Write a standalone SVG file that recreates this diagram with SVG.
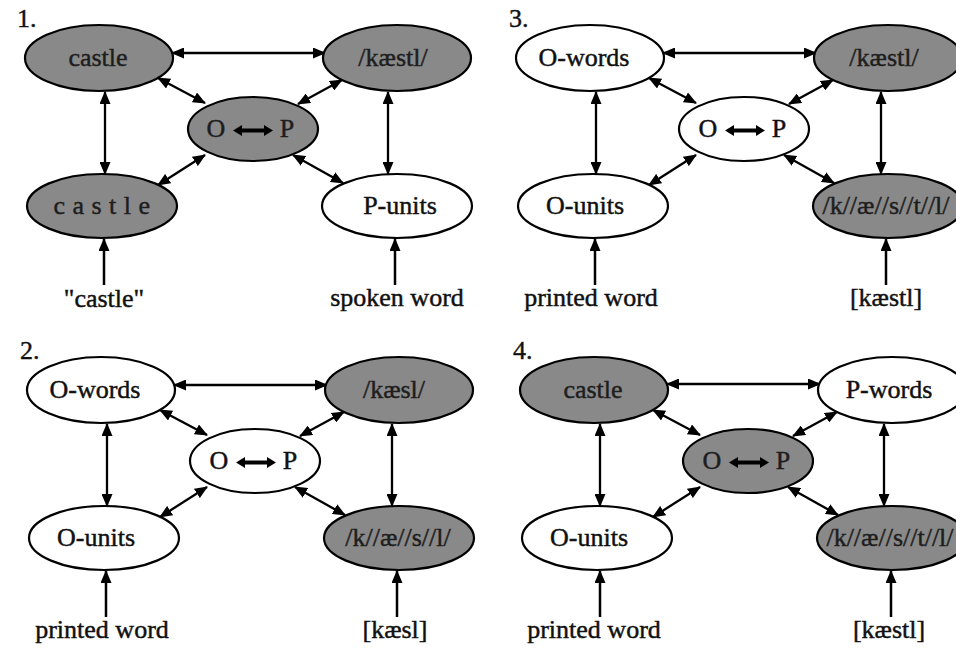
<svg xmlns="http://www.w3.org/2000/svg" width="956" height="650" viewBox="0 0 956 650">
<defs>
<marker id="ah" viewBox="0 0 13 11" refX="12" refY="5.5" markerWidth="13" markerHeight="11" markerUnits="userSpaceOnUse" orient="auto-start-reverse">
<path d="M0,0 L13,5.5 L0,11 Z" fill="#000"/>
</marker>
</defs>
<style>
.n{stroke:#000;stroke-width:2.2}
.g{fill:#898989}
.w{fill:#fff}
.t{font-family:"Liberation Serif","Times New Roman",serif;font-size:26px;fill:#111;stroke:#111;stroke-width:0.45;text-anchor:middle}
.tg{fill:#1e1e1e;stroke:#1e1e1e}
.num{font-family:"Liberation Serif","Times New Roman",serif;font-size:26px;fill:#111;stroke:#111;stroke-width:0.4}
.c{stroke:#000;stroke-width:2.3;fill:none;marker-start:url(#ah);marker-end:url(#ah)}
.u{stroke:#000;stroke-width:2.5;fill:none;marker-end:url(#ah)}
.big{fill:#000}
</style>
<rect width="956" height="650" fill="#fff"/>

<!-- Panel 1 -->
<g id="panel1" transform="translate(0,0)">
<text class="num" x="17" y="27">1.</text>
<g id="p1-connectors">
<path class="c" d="M172,53 L325,53"/>
<path class="c" d="M105,92 L105,174"/>
<path class="c" d="M388,92 L388,174"/>
<path class="c" d="M158,78 L205,103"/>
<path class="c" d="M342,80 L298,104"/>
<path class="c" d="M158,185 L205,155"/>
<path class="c" d="M343,183 L293,155"/>
<path class="u" d="M104,285 L104,239"/>
<path class="u" d="M395,285 L395,239"/>
</g>
<g id="p1-castle"><ellipse class="n g" cx="99" cy="58" rx="74" ry="33"/><text class="t tg" x="98" y="66">castle</text></g>
<g id="p1-kaestl"><ellipse class="n g" cx="397" cy="58" rx="74" ry="33"/><text class="t tg" x="393" y="66">/kæstl/</text></g>
<g id="p1-op"><ellipse class="n g" cx="253" cy="129" rx="65" ry="32"/><text class="t tg" x="216" y="137">O</text><path class="big" d="M233,130.5 L242,125 L242,128.5 L264,128.5 L264,125 L273,130.5 L264,136 L264,132.5 L242,132.5 L242,136 Z"/><text class="t tg" x="287" y="137">P</text></g>
<g id="p1-letters"><ellipse class="n g" cx="102" cy="206" rx="75" ry="32"/><text class="t tg" x="102" y="214" letter-spacing="0.5">c a s t l e</text></g>
<g id="p1-punits"><ellipse class="n w" cx="397" cy="206" rx="75" ry="32"/><text class="t" x="400" y="214">P-units</text></g>
<text class="t" x="104" y="307">"castle"</text>
<text class="t" x="397" y="306">spoken word</text>
</g>

<!-- Panel 3 -->
<g id="panel3" transform="translate(491,0)">
<text class="num" x="18" y="27">3.</text>
<g id="p3-connectors">
<path class="c" d="M172,53 L325,53"/>
<path class="c" d="M105,92 L105,174"/>
<path class="c" d="M390,92 L390,174"/>
<path class="c" d="M158,78 L205,103"/>
<path class="c" d="M342,80 L298,104"/>
<path class="c" d="M158,185 L205,155"/>
<path class="c" d="M343,183 L293,155"/>
<path class="u" d="M104,285 L104,239"/>
<path class="u" d="M395,285 L395,239"/>
</g>
<g id="p3-owords"><ellipse class="n w" cx="99" cy="58" rx="74" ry="33"/><text class="t" x="93" y="66">O-words</text></g>
<g id="p3-kaestl"><ellipse class="n g" cx="397" cy="58" rx="74" ry="33"/><text class="t tg" x="393" y="66">/kæstl/</text></g>
<g id="p3-op"><ellipse class="n w" cx="253" cy="129" rx="65" ry="32"/><text class="t" x="217" y="137">O</text><path class="big" d="M234,130.5 L243,125 L243,128.5 L265,128.5 L265,125 L274,130.5 L265,136 L265,132.5 L243,132.5 L243,136 Z"/><text class="t" x="288" y="137">P</text></g>
<g id="p3-ounits"><ellipse class="n w" cx="102" cy="206" rx="75" ry="32"/><text class="t" x="94" y="214">O-units</text></g>
<g id="p3-phonemes"><ellipse class="n g" cx="397" cy="206" rx="75" ry="32"/><text class="t tg" x="395" y="214">/k//æ//s//t//l/</text></g>
<text class="t" x="100" y="306">printed word</text>
<text class="t" x="395" y="306">[kæstl]</text>
</g>

<!-- Panel 2 -->
<g id="panel2" transform="translate(2,332)">
<text class="num" x="18" y="27">2.</text>
<g id="p2-connectors">
<path class="c" d="M172,53 L325,53"/>
<path class="c" d="M105,92 L105,174"/>
<path class="c" d="M390,92 L390,174"/>
<path class="c" d="M158,78 L205,103"/>
<path class="c" d="M342,80 L298,104"/>
<path class="c" d="M158,185 L205,155"/>
<path class="c" d="M343,183 L293,155"/>
<path class="u" d="M104,285 L104,239"/>
<path class="u" d="M395,285 L395,239"/>
</g>
<g id="p2-owords"><ellipse class="n w" cx="99" cy="58" rx="74" ry="33"/><text class="t" x="93" y="66">O-words</text></g>
<g id="p2-kaesl"><ellipse class="n g" cx="397" cy="58" rx="74" ry="33"/><text class="t tg" x="392" y="66">/kæsl/</text></g>
<g id="p2-op"><ellipse class="n w" cx="253" cy="129" rx="65" ry="32"/><text class="t" x="217" y="137">O</text><path class="big" d="M234,130.5 L243,125 L243,128.5 L265,128.5 L265,125 L274,130.5 L265,136 L265,132.5 L243,132.5 L243,136 Z"/><text class="t" x="288" y="137">P</text></g>
<g id="p2-ounits"><ellipse class="n w" cx="102" cy="206" rx="75" ry="32"/><text class="t" x="94" y="214">O-units</text></g>
<g id="p2-phonemes"><ellipse class="n g" cx="397" cy="206" rx="75" ry="32"/><text class="t tg" x="396" y="214">/k//æ//s//l/</text></g>
<text class="t" x="100" y="306">printed word</text>
<text class="t" x="393" y="306">[kæsl]</text>
</g>

<!-- Panel 4 -->
<g id="panel4" transform="translate(495,332)">
<text class="num" x="18" y="27">4.</text>
<g id="p4-connectors">
<path class="c" d="M172,52 L325,52"/>
<path class="c" d="M105,92 L105,174"/>
<path class="c" d="M389,92 L389,174"/>
<path class="c" d="M158,78 L205,103"/>
<path class="c" d="M342,80 L298,104"/>
<path class="c" d="M158,185 L205,155"/>
<path class="c" d="M343,183 L293,155"/>
<path class="u" d="M105,285 L105,239"/>
<path class="u" d="M396,285 L396,239"/>
</g>
<g id="p4-castle"><ellipse class="n g" cx="99" cy="58" rx="74" ry="33"/><text class="t tg" x="98" y="66">castle</text></g>
<g id="p4-pwords"><ellipse class="n w" cx="397" cy="58" rx="74" ry="33"/><text class="t" x="394" y="66">P-words</text></g>
<g id="p4-op"><ellipse class="n g" cx="253" cy="129" rx="65" ry="32"/><text class="t tg" x="217" y="137">O</text><path class="big" d="M234,130.5 L243,125 L243,128.5 L265,128.5 L265,125 L274,130.5 L265,136 L265,132.5 L243,132.5 L243,136 Z"/><text class="t tg" x="288" y="137">P</text></g>
<g id="p4-ounits"><ellipse class="n w" cx="102" cy="206" rx="75" ry="32"/><text class="t" x="94" y="214">O-units</text></g>
<g id="p4-phonemes"><ellipse class="n g" cx="397" cy="206" rx="75" ry="32"/><text class="t tg" x="395" y="214">/k//æ//s//t//l/</text></g>
<text class="t" x="99" y="306">printed word</text>
<text class="t" x="394" y="306">[kæstl]</text>
</g>
</svg>
